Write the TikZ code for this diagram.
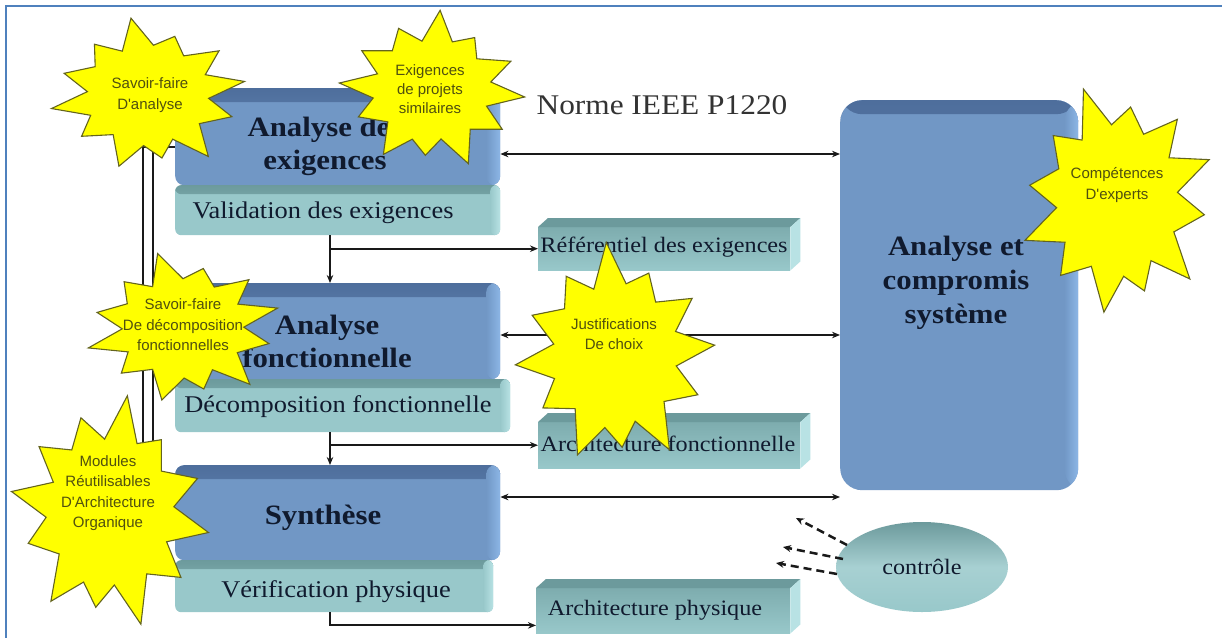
\documentclass[tikz,border=0pt]{standalone}
\usepackage{fontspec}
\setmainfont{Liberation Serif}[FakeStretch=1.1]
\newfontfamily\burstfont{Liberation Sans}
\usetikzlibrary{arrows.meta,shapes.geometric}

\definecolor{boxblue}{RGB}{113,151,197}
\definecolor{boxbluedark}{RGB}{78,110,156}
\definecolor{boxbluelight}{RGB}{140,182,230}
\definecolor{boxteal}{RGB}{152,200,202}
\definecolor{boxtealdark}{RGB}{108,154,156}
\definecolor{boxteallight}{RGB}{184,226,228}
\definecolor{ink}{RGB}{16,26,46}
\definecolor{burstfill}{RGB}{255,255,0}
\definecolor{burstline}{RGB}{100,100,30}
\definecolor{bursttext}{RGB}{80,80,15}
\definecolor{framecol}{RGB}{79,129,189}
\definecolor{linkcol}{RGB}{25,25,25}

\tikzset{
  bluebox/.style={fill=boxblue, rounded corners=9pt, inner sep=0pt, anchor=north west,
    path picture={
      \shade[top color=boxbluedark, bottom color=boxblue]
        (path picture bounding box.north west) rectangle ([yshift=-14pt]path picture bounding box.north east);
      \shade[left color=boxblue, right color=boxbluelight]
        ([xshift=-14pt]path picture bounding box.north east) rectangle (path picture bounding box.south east);
    }},
  bigbox/.style={bluebox, rounded corners=22pt},
  tealbox/.style={fill=boxteal, rounded corners=6pt, inner sep=0pt, anchor=north west,
    path picture={
      \shade[top color=boxtealdark, bottom color=boxteal]
        (path picture bounding box.north west) rectangle ([yshift=-9pt]path picture bounding box.north east);
      \shade[left color=boxteal, right color=boxteallight]
        ([xshift=-10pt]path picture bounding box.north east) rectangle (path picture bounding box.south east);
    }},
  flatbox/.style={inner sep=0pt, anchor=north west, top color=boxtealdark!60!boxteal, bottom color=boxteal},
  topface/.style={fill=boxtealdark},
  sideface/.style={fill=boxteallight},
  ctrl/.style={ellipse, inner sep=0pt, top color=boxtealdark, bottom color=boxteal, middle color=boxteal!85!white},
  boxtitle/.style={text=ink, align=center, font=\fontsize{28}{33}\selectfont\bfseries},
  boxsub/.style={text=ink, align=center, font=\fontsize{24}{28}\selectfont},
  flatlabel/.style={text=ink, align=center, font=\fontsize{22}{26}\selectfont},
  burst/.style={fill=burstfill, draw=burstline, line width=1.1pt, line join=miter},
  bursttxt/.style={text=bursttext, align=center, font=\burstfont\fontsize{15}{20.5}\selectfont},
  link/.style={draw=linkcol, line width=2.1pt},
  tip/.style={-{Stealth[length=8pt,width=6.5pt]}},
  tips/.style={{Stealth[length=8pt,width=6.5pt]}-{Stealth[length=8pt,width=6.5pt]}},
  ctrlarrow/.style={draw=linkcol, line width=2.5pt, dash pattern=on 8pt off 5pt, -{Stealth[length=8pt,width=7pt]}},
}

% irregular twelve-point burst: centre x, centre y, x radius, y radius, rotation
\newcommand\burstpath[5]{%
  \draw[burst,shift={(#1,#2)},xscale=#3,yscale=#4,rotate=#5]
    (0:1) \foreach \k/\m in {14/.62,28/.9,45/.64,62/1,76/.62,90/.82,104/.65,118/.96,135/.62,
      152/.86,166/.64,180/1,194/.62,208/.9,224/.65,240/.85,255/.62,270/1,285/.64,300/.8,
      316/.62,332/.92,346/.64} { -- (\k:\m) } -- cycle;}

\begin{document}
\begin{tikzpicture}[x=1pt,y=-1pt]
\useasboundingbox (0,0) rectangle (1222,637);
\fill[white] (0,0) rectangle (1222,637);
\draw[framecol, line width=1.6pt] (6,645) -- (6,6) -- (1230,6);

% process blocks
\node[bluebox, minimum width=325pt, minimum height=97pt] (A) at (175,88) {};
\node[tealbox, minimum width=325pt, minimum height=50pt] (V) at (175,185) {};
\node[bluebox, minimum width=325pt, minimum height=96pt] (B) at (175,283) {};
\node[tealbox, minimum width=335pt, minimum height=53pt] (D) at (175,379) {};
\node[bluebox, minimum width=325pt, minimum height=95pt] (S) at (175,465) {};
\node[tealbox, minimum width=318pt, minimum height=52pt] (P) at (175,560) {};

% system analysis block and control
\node[bigbox, minimum width=238pt, minimum height=390pt] (C) at (840,100) {};
\node[ctrl, minimum width=172pt, minimum height=90pt] (E) at (922,567) {};

% output repositories (raised slabs)
\node[flatbox, minimum width=252pt, minimum height=43pt] (R) at (538,227) {};
\node[flatbox, minimum width=262pt, minimum height=46pt] (AF) at (538,422) {};
\node[flatbox, minimum width=254pt, minimum height=45pt] (AP) at (536,588) {};
\foreach \n in {R,AF,AP}{
  \fill[topface] (\n.north west) -- ([shift={(10,-9)}]\n.north west)
    -- ([shift={(10,-9)}]\n.north east) -- (\n.north east) -- cycle;
  \fill[sideface] (\n.north east) -- ([shift={(10,-9)}]\n.north east)
    -- ([shift={(10,-9)}]\n.south east) -- (\n.south east) -- cycle;
}

% labels
\node[boxtitle] (At) at (325,146) {Analyse des\\exigences};
\node[boxtitle] (Bt) at (327,341) {Analyse\\fonctionnelle};
\node[boxtitle] (St) at (323,518) {Synthèse};
\node[boxtitle, font=\fontsize{28}{34}\selectfont\bfseries] (Ct) at (956,283) {Analyse et\\compromis\\système};
\node[boxsub] (Vt) at (323,213) {Validation des exigences};
\node[boxsub] (Dt) at (338,407) {Décomposition fonctionnelle};
\node[boxsub] (Pt) at (336,592) {Vérification physique};
\node[flatlabel] (Rt) at (664,247) {Référentiel des exigences};
\node[flatlabel] (AFt) at (668,444) {Architecture fonctionnelle};
\node[flatlabel] (APt) at (655,610) {Architecture physique};
\node[flatlabel] (Et) at (922,567) {contrôle};
\node[text=black!80, font=\fontsize{28.5}{30}\selectfont] (title) at (662,105) {Norme IEEE P1220};

% connectors
\coordinate (spine) at (330,0);
\coordinate (h1) at (0,154);
\coordinate (h2) at (0,335);
\coordinate (h3) at (0,497);
\coordinate (fbA) at (143,0);
\coordinate (fbB) at (153,0);
\coordinate (aIn) at ([yshift=-10pt]A.west);
\coordinate (sIn) at ([yshift=-25pt]S.west);
\coordinate (apIn) at ([yshift=8pt]AP.south west);

\draw[link, tip] (V.south -| spine) -- (B.north -| spine);
\draw[link, tip] (spine |- R.west) -- (R.west);
\draw[link, tip] (D.south -| spine) -- (S.north -| spine);
\draw[link, tip] (spine |- AF.west) -- (AF.west);
\draw[link, tip] (P.south -| spine) |- (apIn);

\draw[link, tips] (A.east |- h1) -- (C.west |- h1);
\draw[link, tips] (B.east |- h2) -- (C.west |- h2);
\draw[link, tips] (S.east |- h3) -- (C.west |- h3);

\draw[link] (aIn) -- (aIn -| fbA) -- (sIn -| fbA) -- (sIn);
\draw[link] (aIn -| fbB) -- (sIn -| fbB);

\coordinate (c1) at (796,518);
\coordinate (c2) at (783,547);
\coordinate (c3) at (776,563);
\draw[ctrlarrow] ([shift={(-75,-22)}]E.center) -- (c1);
\draw[ctrlarrow] ([shift={(-79,-8)}]E.center) -- (c2);
\draw[ctrlarrow] ([shift={(-85,7)}]E.center) -- (c3);

% knowledge bursts
\burstpath{148}{95}{98}{78}{10}
\burstpath{432}{90}{93}{80}{-5}
\burstpath{1117}{200}{98}{118}{20}
\burstpath{615}{355}{100}{113}{5}
\burstpath{183}{328}{98}{77}{15}
\burstpath{110}{512}{100}{118}{-10}

\node[bursttxt] (k1) at (150,95) {Savoir-faire\\D'analyse};
\node[bursttxt, font=\burstfont\fontsize{15}{19}\selectfont] (k2) at (430,89) {Exigences\\de projets\\similaires};
\node[bursttxt] (k3) at (1117,185) {Compétences\\D'experts};
\node[bursttxt] (k4) at (614,334) {Justifications\\De choix};
\node[bursttxt] (k5) at (183,325) {Savoir-faire\\De décomposition\\fonctionnelles};
\node[bursttxt] (k6) at (108,493) {Modules\\Réutilisables\\D'Architecture\\Organique};
\end{tikzpicture}
\end{document}
